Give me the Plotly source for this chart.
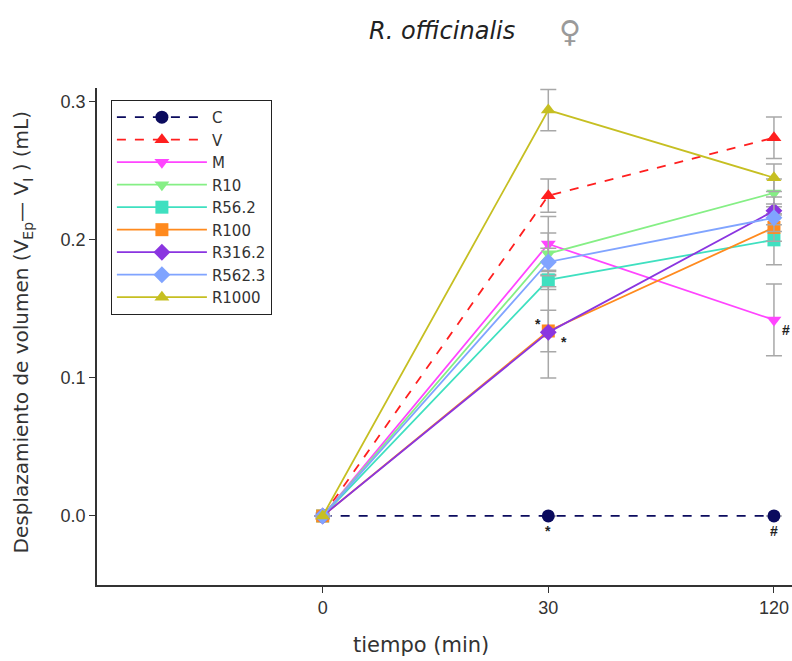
import plotly.graph_objects as go

times = ["0", "30", "120"]
series = ["C", "V", "M", "R10", "R56.2", "R100", "R316.2", "R562.3", "R1000"]
values = {
    "C":      [0.0, 0.0,   0.0],
    "V":      [0.0, 0.232, 0.274],
    "M":      [0.0, 0.197, 0.142],
    "R10":    [0.0, 0.190, 0.234],
    "R56.2":  [0.0, 0.171, 0.200],
    "R100":   [0.0, 0.134, 0.209],
    "R316.2": [0.0, 0.133, 0.221],
    "R562.3": [0.0, 0.184, 0.216],
    "R1000":  [0.0, 0.294, 0.245],
}
errors = {
    "C":      [0, 0, 0],
    "V":      [0, 0.012, 0.015],
    "M":      [0, 0.020, 0.026],
    "R10":    [0, 0.015, 0.010],
    "R56.2":  [0, 0.007, 0.018],
    "R100":   [0, 0.015, 0.010],
    "R316.2": [0, 0.033, 0.010],
    "R562.3": [0, 0.010, 0.010],
    "R1000":  [0, 0.015, 0.010],
}
colors = {
    "C": "#0b0b5e", "V": "#ff1f1f", "M": "#ff45ff", "R10": "#85ef85",
    "R56.2": "#3fe0c0", "R100": "#ff8a1e", "R316.2": "#8a35e0",
    "R562.3": "#80a4ff", "R1000": "#c6bf22",
}
symbols = {
    "C": "circle", "V": "triangle-up", "M": "triangle-down", "R10": "triangle-down",
    "R56.2": "square", "R100": "square", "R316.2": "diamond",
    "R562.3": "diamond", "R1000": "triangle-up",
}
dashes = {"C": "dash", "V": "dash"}
title_text = "<i>R. officinalis</i>"
x_title = "tiempo (min)"
y_title = "Desplazamiento de volumen (V<sub>Ep</sub>— V<sub>I</sub> ) (mL)"

xidx = list(range(len(times)))
fig = go.Figure()
for s in series:
    fig.add_trace(go.Scatter(
        x=xidx, y=values[s], name=s, mode="lines+markers",
        line=dict(color=colors[s], width=1.8, dash=dashes.get(s, "solid")),
        marker=dict(symbol=symbols[s], size=13, color=colors[s]),
        error_y=dict(type="data", array=errors[s], color="#a8a8a8", thickness=1.5, width=8),
        cliponaxis=False,
    ))

# significance marks
marks = [
    (0.955, 0.139, "*"), (1.07, 0.126, "*"),
    (1.0, -0.011, "*"), (2.0, -0.011, "#"), (2.055, 0.135, "#"),
]
for x, y, t in marks:
    fig.add_annotation(x=x, y=y, text="<b>" + t + "</b>", showarrow=False,
                       font=dict(size=14, color="#222222", family="Arial"))

# title, female sign, axis titles
fig.add_annotation(xref="paper", yref="paper", x=0.388, y=1.114, xanchor="left", yanchor="middle",
                   text=title_text, showarrow=False,
                   font=dict(size=24, color="#222222", family="DejaVu Sans"))
fig.add_annotation(xref="paper", yref="paper", x=0.68, y=1.114, xanchor="center", yanchor="middle",
                   text="♀", showarrow=False,
                   font=dict(size=30, color="#9a9a9a", family="DejaVu Sans"))
fig.add_annotation(xref="paper", yref="paper", x=0.466, y=-0.121, xanchor="center", yanchor="middle",
                   text=x_title, showarrow=False,
                   font=dict(size=21, color="#333333", family="DejaVu Sans"))
fig.add_annotation(xref="paper", yref="paper", x=-0.108, y=0.508, xanchor="center", yanchor="middle",
                   text=y_title, showarrow=False, textangle=-90,
                   font=dict(size=20, color="#333333", family="DejaVu Sans"))

fig.update_layout(
    width=792, height=661,
    paper_bgcolor="white", plot_bgcolor="white",
    margin=dict(l=97, r=0, t=88, b=76, autoexpand=False),
    font=dict(family="Arial", color="#333333"),
    showlegend=True,
    legend=dict(x=0.02, y=0.976, xanchor="left", yanchor="top",
                bordercolor="#222222", borderwidth=1, bgcolor="white",
                font=dict(size=15, color="#333333", family="DejaVu Sans"), itemwidth=90,
                tracegroupgap=0),
    xaxis=dict(range=[-1, 2.08], tickvals=xidx, ticktext=times, automargin=False,
               showline=True, linecolor="#333333", linewidth=1.5,
               ticks="outside", ticklen=6, tickcolor="#333333",
               showgrid=False, zeroline=False, ticklabeloverflow="allow",
               tickfont=dict(size=18, color="#333333")),
    yaxis=dict(range=[-0.05, 0.31], tickvals=[0, 0.1, 0.2, 0.3], automargin=False,
               ticktext=["0.0", "0.1", "0.2", "0.3"],
               showline=True, linecolor="#333333", linewidth=1.5,
               ticks="outside", ticklen=6, tickcolor="#333333",
               showgrid=False, zeroline=False,
               tickfont=dict(size=18, color="#333333")),
)
fig.write_html("out.html", config={"displayModeBar": False},
               post_script="document.body.style.margin='0';document.body.style.overflow='hidden';")
